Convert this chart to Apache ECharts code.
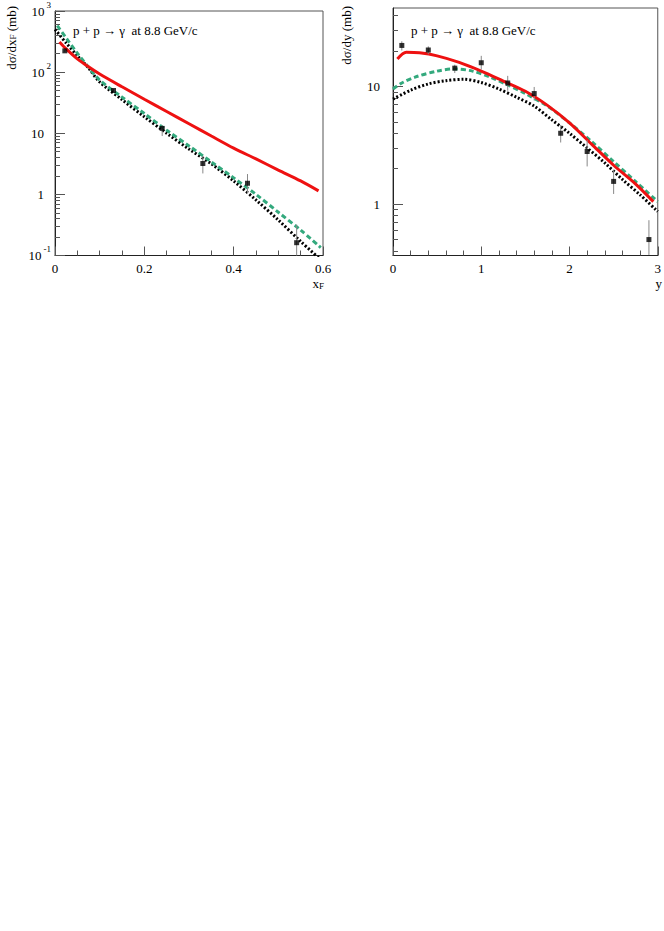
<!DOCTYPE html>
<html>
<head>
<meta charset="utf-8">
<script src="https://cdn.jsdelivr.net/npm/echarts@6/dist/echarts.min.js"></script>
<style>
html, body { margin: 0; padding: 0; background: #fff; }
#chart { width: 664px; height: 931px; }
</style>
</head>
<body>
<div id="chart"></div>
<script>
// ---- left panel: dsigma/dx_F ----
const xfData = [0.022, 0.131, 0.240, 0.331, 0.431, 0.541];
const xfVal = [223, 50, 12.0, 3.2, 1.52, 0.162];
const xfLow = [212, 47, 9.0, 2.2, 1.05, 0.1];
const xfHigh = [234, 53, 13.5, 4.15, 2.15, 0.32];

const xfRedX = [0.01, 0.025, 0.05, 0.075, 0.1, 0.15, 0.2, 0.25, 0.3, 0.35, 0.4, 0.45, 0.5, 0.55, 0.59];
const xfRed = [312, 240, 165, 122, 93, 57.5, 36, 22.7, 14.3, 9.0, 5.7, 3.8, 2.5, 1.66, 1.14];
const xfBlackX = [0, 0.025, 0.05, 0.075, 0.1, 0.15, 0.2, 0.25, 0.3, 0.35, 0.4, 0.45, 0.5, 0.55, 0.6];
const xfBlack = [500, 300, 186, 117, 69, 35.5, 18.6, 10, 5.5, 3.16, 1.66, 0.81, 0.38, 0.17, 0.079];
const xfGreenX = [0.005, 0.025, 0.05, 0.075, 0.1, 0.15, 0.2, 0.25, 0.3, 0.35, 0.4, 0.45, 0.5, 0.55, 0.595];
const xfGreen = [575, 363, 204, 120, 74, 39, 21, 11.2, 6.2, 3.4, 1.86, 1.0, 0.51, 0.26, 0.135];

const xfTicks = [0, 0.2, 0.4, 0.6];
const xfYTicks = [0.1, 1, 10, 100, 1000];

// ---- right panel: dsigma/dy ----
const yData = [0.1, 0.4, 0.7, 1.0, 1.3, 1.6, 1.9, 2.2, 2.5, 2.9];
const yVal = [22.3, 20.4, 14.3, 15.9, 10.7, 8.7, 4.0, 2.8, 1.56, 0.50];
const yLow = [20.2, 18.8, 13.0, 13.9, 9.2, 7.6, 3.34, 2.09, 1.22, 0.37];
const yHigh = [24.2, 21.9, 15.3, 18.2, 12.3, 9.9, 4.7, 3.5, 1.95, 0.73];

const yRedX = [0.05, 0.15, 0.3, 0.5, 0.75, 1.0, 1.25, 1.5, 1.75, 2.0, 2.25, 2.5, 2.75, 2.95];
const yRed = [17.1, 19.5, 19.3, 18.2, 16.0, 13.5, 11.1, 9.1, 6.9, 4.9, 3.24, 2.14, 1.48, 1.05];
const yGreenX = [0, 0.1, 0.25, 0.5, 0.7, 0.9, 1.1, 1.3, 1.5, 1.75, 2.0, 2.25, 2.5, 2.75, 3.0];
const yGreen = [9.5, 10.7, 12.0, 13.5, 14.1, 13.5, 12.0, 10.3, 8.7, 6.8, 4.9, 3.4, 2.3, 1.55, 1.05];
const yBlackX = [0, 0.2, 0.4, 0.6, 0.8, 1.0, 1.2, 1.4, 1.6, 1.8, 2.0, 2.2, 2.4, 2.6, 2.8, 3.0];
const yBlack = [7.8, 9.3, 10.5, 11.2, 11.5, 10.8, 9.5, 8.1, 6.8, 5.2, 4.0, 3.0, 2.24, 1.62, 1.2, 0.865];

const yTicks = [0, 1, 2, 3];
const yYTicks = [1, 10];

const titleText = 'p + p \u2192 \u03b3  at 8.8 GeV/c';

const RED = '#ee1111';
const GREEN = '#33a97d';
const SERIF = "'Liberation Serif', 'DejaVu Serif', serif";

const zip = (a, b) => a.map((v, i) => [v, b[i]]);
const zip3 = (a, b, c) => a.map((v, i) => [v, b[i], c[i]]);

// minor tick positions
const minorLinear = (min, max, step, majors) => {
  const out = [];
  for (let v = min; v <= max + 1e-9; v += step) {
    const r = Math.round(v * 1000) / 1000;
    if (!majors.some(m => Math.abs(m - r) < 1e-6)) out.push(r);
  }
  return out;
};
const minorLog = (min, max) => {
  const out = [];
  for (let e = -2; e <= 3; e++) {
    for (let k = 2; k <= 9; k++) {
      const v = k * Math.pow(10, e);
      if (v >= min && v <= max) out.push(v);
    }
  }
  return out;
};

const richLabel = {
  b: { fontSize: 13, fontFamily: SERIF, color: '#000', lineHeight: 22 },
  sup: { fontSize: 9, fontFamily: SERIF, color: '#000', lineHeight: 10, verticalAlign: 'top', padding: [0, 0, 0, 2] },
  p: { fontSize: 13, fontFamily: SERIF, color: '#000', lineHeight: 22, padding: [0, 7, 0, 0] }
};
const logLabel = v => {
  const e = Math.round(Math.log10(v));
  if (e === 0) return '{p|1}';
  if (e === 1) return '{p|10}';
  return '{b|10}{sup|' + e + '}';
};

const errorBar = (params, api) => {
  const x = api.value(0);
  const lo = api.coord([x, api.value(1)]);
  const hi = api.coord([x, api.value(2)]);
  return {
    type: 'line',
    shape: { x1: lo[0], y1: lo[1], x2: hi[0], y2: hi[1] },
    style: { stroke: '#888', lineWidth: 1 }
  };
};

const xMajor = (grid, min, max, ticks, fmt) => ({
  type: 'value', gridIndex: grid, min: min, max: max, position: 'bottom',
  axisLine: { show: true, onZero: false, lineStyle: { color: '#222', width: 1 } },
  axisTick: { show: true, inside: true, length: 9, customValues: ticks, lineStyle: { color: '#555' } },
  axisLabel: { show: true, customValues: ticks, margin: 6, formatter: fmt, fontSize: 13, fontFamily: SERIF, color: '#000' },
  splitLine: { show: false }
});
const xMinor = (grid, min, max, ticks) => ({
  type: 'value', gridIndex: grid, min: min, max: max, position: 'bottom',
  axisLine: { show: false, onZero: false },
  axisTick: { show: true, inside: true, length: 5, customValues: ticks, lineStyle: { color: '#555' } },
  axisLabel: { show: false },
  splitLine: { show: false }
});
const yMajor = (grid, min, max, ticks, margin) => ({
  type: 'log', gridIndex: grid, min: min, max: max, position: 'left',
  axisLine: { show: true, onZero: false, lineStyle: { color: '#222', width: 1 } },
  axisTick: { show: true, inside: true, length: 10, customValues: ticks, lineStyle: { color: '#555' } },
  axisLabel: { show: true, customValues: ticks, margin: margin, formatter: logLabel, rich: richLabel },
  splitLine: { show: false }
});
const yMinor = (grid, min, max, ticks) => ({
  type: 'log', gridIndex: grid, min: min, max: max, position: 'left',
  axisLine: { show: false, onZero: false },
  axisTick: { show: true, inside: true, length: 5, customValues: ticks, lineStyle: { color: '#555' } },
  axisLabel: { show: false },
  splitLine: { show: false }
});

const curve = (xi, yi, data, color, type) => ({
  type: 'line', xAxisIndex: xi, yAxisIndex: yi, data: data,
  showSymbol: false, symbol: 'none', smooth: 0.3, silent: true, z: 3,
  lineStyle: { color: color, width: 3, type: type }
});

const R_MIN = 0.366, R_MAX = 46.4;
const subStyle = { fontSize: 9, fontFamily: SERIF, fill: '#000', verticalAlign: 'bottom', lineHeight: 9 };

const option = {
  animation: false,
  backgroundColor: '#fff',
  grid: [
    { left: 55, top: 8, width: 268, height: 247.5, show: true, borderColor: '#555', borderWidth: 1, backgroundColor: 'transparent' },
    { left: 393, top: 8, width: 268.5, height: 247.5, show: true, borderColor: '#555', borderWidth: 1, backgroundColor: 'transparent' }
  ],
  xAxis: [
    xMajor(0, 0, 0.6, xfTicks, v => (v === 0 ? '0' : v.toFixed(1))),
    xMinor(0, 0, 0.6, minorLinear(0, 0.6, 0.05, xfTicks)),
    xMajor(1, 0, 3, yTicks, v => String(Math.round(v))),
    xMinor(1, 0, 3, minorLinear(0, 3, 0.2, yTicks))
  ],
  yAxis: [
    yMajor(0, 0.1, 1000, xfYTicks, 4),
    yMinor(0, 0.1, 1000, minorLog(0.1, 1000)),
    yMajor(1, R_MIN, R_MAX, yYTicks, 6),
    yMinor(1, R_MIN, R_MAX, minorLog(R_MIN, R_MAX))
  ],
  graphic: [
    { type: 'text', x: 73, y: 30, style: { text: titleText, font: '13px ' + SERIF, fill: '#000', textVerticalAlign: 'middle', verticalAlign: 'middle' } },
    { type: 'text', x: 411, y: 30, style: { text: titleText, font: '13px ' + SERIF, fill: '#000', textVerticalAlign: 'middle', verticalAlign: 'middle' } },
    {
      type: 'text', x: 11, y: 6, rotation: Math.PI / 2,
      style: {
        text: 'd\u03c3/dx{sub|F} (mb)', font: '13px ' + SERIF, fill: '#000',
        textAlign: 'right', align: 'right', textVerticalAlign: 'middle', verticalAlign: 'middle',
        rich: { sub: subStyle }
      }
    },
    {
      type: 'text', x: 346, y: 6, rotation: Math.PI / 2,
      style: {
        text: 'd\u03c3/dy (mb)', font: '13px ' + SERIF, fill: '#000',
        textAlign: 'right', align: 'right', textVerticalAlign: 'middle', verticalAlign: 'middle'
      }
    },
    {
      type: 'text', x: 324, y: 277,
      style: {
        text: 'x{sub|F}', font: '13px ' + SERIF, fill: '#000',
        textAlign: 'right', align: 'right', textVerticalAlign: 'top', verticalAlign: 'top',
        rich: { sub: subStyle }
      }
    },
    {
      type: 'text', x: 662, y: 277,
      style: { text: 'y', font: '13px ' + SERIF, fill: '#000', textAlign: 'right', align: 'right', textVerticalAlign: 'top', verticalAlign: 'top' }
    }
  ],
  series: [
    curve(0, 0, zip(xfBlackX, xfBlack), '#000', [2, 2]),
    curve(0, 0, zip(xfGreenX, xfGreen), GREEN, [5, 3]),
    curve(0, 0, zip(xfRedX, xfRed), RED, 'solid'),
    {
      type: 'custom', xAxisIndex: 0, yAxisIndex: 0, renderItem: errorBar,
      encode: { x: 0, y: [1, 2] }, data: zip3(xfData, xfLow, xfHigh), z: 4, silent: true
    },
    {
      type: 'scatter', xAxisIndex: 0, yAxisIndex: 0, data: zip(xfData, xfVal),
      symbol: 'rect', symbolSize: 5, itemStyle: { color: '#000' }, z: 5, silent: true
    },

    curve(2, 2, zip(yBlackX, yBlack), '#000', [2, 2]),
    curve(2, 2, zip(yGreenX, yGreen), GREEN, [5, 3]),
    curve(2, 2, zip(yRedX, yRed), RED, 'solid'),
    {
      type: 'custom', xAxisIndex: 2, yAxisIndex: 2, renderItem: errorBar,
      encode: { x: 0, y: [1, 2] }, data: zip3(yData, yLow, yHigh), z: 4, silent: true
    },
    {
      type: 'scatter', xAxisIndex: 2, yAxisIndex: 2, data: zip(yData, yVal),
      symbol: 'rect', symbolSize: 5, itemStyle: { color: '#000' }, z: 5, silent: true
    }
  ]
};

const myChart = echarts.init(document.getElementById('chart'), null, { renderer: 'svg' });
myChart.setOption(option);
</script>
</body>
</html>
